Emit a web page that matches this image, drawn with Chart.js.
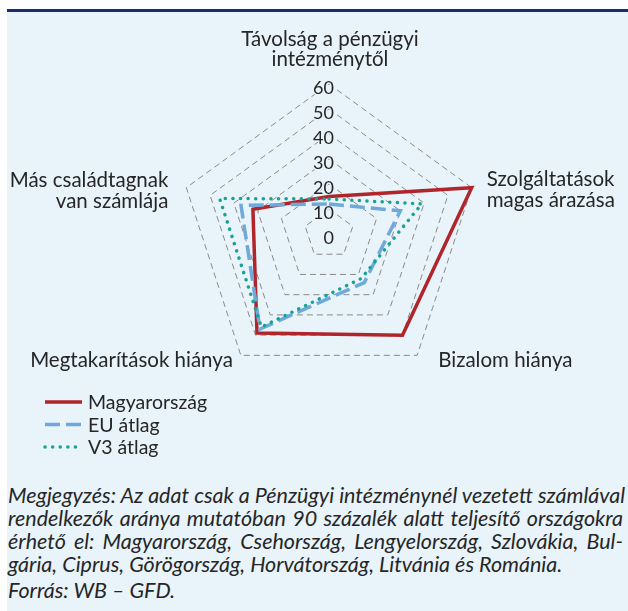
<!DOCTYPE html>
<html><head><meta charset="utf-8">
<script src="https://cdn.jsdelivr.net/npm/chart.js@4.4.1/dist/chart.umd.min.js"></script>
<style>
html,body{margin:0;padding:0;background:#fff;width:628px;height:611px;overflow:hidden;}
#panel{position:absolute;left:7px;top:9px;width:621px;height:602px;background:#E8F3FA;border-top:3px solid #1C2A6E;box-sizing:border-box;}
#wrap{position:absolute;left:0;top:0;width:628px;height:460px;}
#note{position:absolute;left:8px;top:484px;width:615px;font-family:Lato,sans-serif;font-style:italic;font-size:21.5px;color:#262626;}
.l{height:23px;line-height:23px;text-align:justify;text-align-last:justify;white-space:nowrap;}
.f{margin-top:3px;height:23px;line-height:23px;}
</style></head>
<body>
<div id="panel"></div>
<div id="wrap"><canvas id="c" width="628" height="460"></canvas></div>
<div id="note">
<div class="l">Megjegyzés: Az adat csak a Pénzügyi intézménynél vezetett számlával</div>
<div class="l">rendelkezők aránya mutatóban 90 százalék alatt teljesítő országokra</div>
<div class="l">érhető el: Magyarország, Csehország, Lengyelország, Szlovákia, Bul-</div>
<div class="l" style="text-align-last:left">gária, Ciprus, Görögország, Horvátország, Litvánia és Románia.</div>
<div class="f">Forrás: WB – GFD.</div>
</div>
<script>
const categories = [
  ['Távolság a pénzügyi', 'intézménytől'],
  ['Szolgáltatások', 'magas árazása'],
  ['Bizalom hiánya'],
  ['Megtakarítások hiánya'],
  ['Más családtagnak', 'van számlája']
];
const seriesNames = ['Magyarország', 'EU átlag', 'V3 átlag'];
const huValues = [15, 60, 50, 49, 32];
const euValues = [12, 30, 24, 47, 37];
const v3Values = [14, 39, 22, 46, 46];
const axisMin = 0, axisMax = 60, axisStep = 10;

const BG = '#E8F3FA';
const TXT = '#262626';
const FONT = 'Lato, sans-serif';

// label placement relative to each outer vertex
const labelLayout = [
  {align: 'center', dx: 1, dy: [-45, -25]},
  {align: 'left', dx: 15, dy: [-8, 13]},
  {align: 'left', dx: 21, dy: [5]},
  {align: 'right', dx: -8, dy: [5]},
  {align: 'right', dx: -18, dy: [-7, 14]}
];

const overlay = {
  id: 'overlay',
  beforeDatasetsDraw(chart) {
    const s = chart.scales.r, ctx = chart.ctx;
    ctx.save();
    ctx.font = '18px ' + FONT;
    ctx.textAlign = 'right';
    ctx.textBaseline = 'middle';
    ctx.lineWidth = 3;
    ctx.lineJoin = 'round';
    ctx.strokeStyle = BG;
    ctx.fillStyle = TXT;
    s.ticks.forEach(t => {
      const d = s.getDistanceFromCenterForValue(t.value);
      const x = s.xCenter + 5, y = s.yCenter - d + 4;
      ctx.strokeText(t.label, x, y);
      ctx.fillText(t.label, x, y);
    });
    ctx.restore();
  },
  afterDraw(chart) {
    const s = chart.scales.r, ctx = chart.ctx;
    ctx.save();
    ctx.font = '20.5px ' + FONT;
    ctx.fillStyle = TXT;
    ctx.textBaseline = 'middle';
    chart.data.labels.forEach((lab, i) => {
      const p = s.getPointPosition(i, s.drawingArea);
      const L = labelLayout[i];
      ctx.textAlign = L.align;
      const lines = Array.isArray(lab) ? lab : [lab];
      lines.forEach((ln, k) => ctx.fillText(ln, p.x + L.dx, p.y + L.dy[k]));
    });
    // legend
    ctx.font = '19.5px ' + FONT;
    chart.data.datasets.forEach((ds, i) => {
      const y = 402 + 22.5 * i;
      ctx.save();
      ctx.strokeStyle = ds.borderColor;
      ctx.lineWidth = ds.borderWidth;
      ctx.lineCap = ds.borderCapStyle || 'butt';
      ctx.setLineDash(ds.borderDash || []);
      ctx.beginPath();
      ctx.moveTo(45, y);
      ctx.lineTo(82, y);
      ctx.stroke();
      ctx.restore();
      ctx.textAlign = 'left';
      ctx.fillText(ds.label, 88, y + 1);
    });
    ctx.restore();
  }
};

new Chart(document.getElementById('c'), {
  type: 'radar',
  data: {
    labels: categories,
    datasets: [
      {label: seriesNames[0], data: huValues, borderColor: '#B0242A', borderWidth: 3.5, fill: false, pointRadius: 0, order: 3, borderJoinStyle: 'miter'},
      {label: seriesNames[1], data: euValues, borderColor: '#6FA9DC', borderWidth: 3.5, borderDash: [15, 6], fill: false, pointRadius: 0, order: 2},
      {label: seriesNames[2], data: v3Values, borderColor: '#18A294', borderWidth: 3.5, borderDash: [0.1, 7.5], borderCapStyle: 'round', fill: false, pointRadius: 0, order: 1}
    ]
  },
  options: {
    responsive: false,
    animation: false,
    layout: {padding: {left: 179, top: 84, right: 149, bottom: 76}},
    plugins: {legend: {display: false}, tooltip: {enabled: false}},
    elements: {line: {tension: 0}},
    scales: {
      r: {
        min: axisMin, max: axisMax,
        ticks: {stepSize: axisStep, display: false},
        grid: {color: '#8A8A8A', lineWidth: 1},
        border: {dash: [6, 4]},
        angleLines: {display: false},
        pointLabels: {display: false}
      }
    }
  },
  plugins: [overlay]
});
</script>
</body></html>
